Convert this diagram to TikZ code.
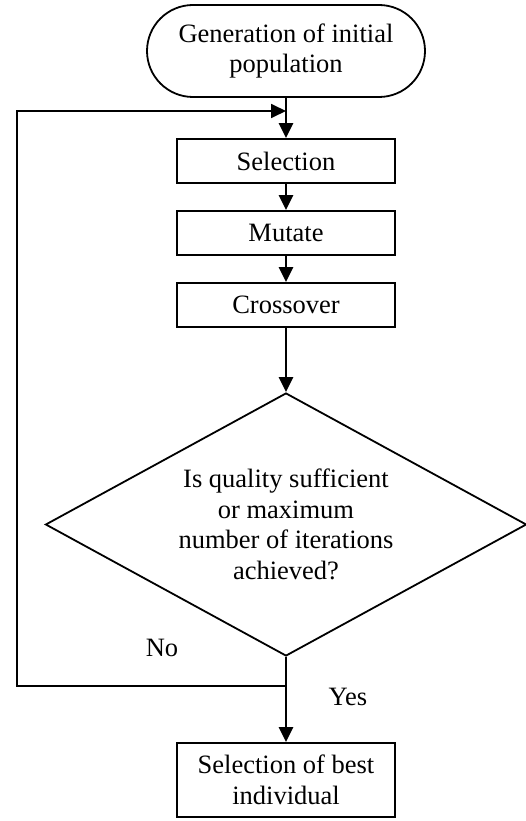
\documentclass[tikz,border=0pt]{standalone}
\usepackage{fontspec}
\setmainfont{Liberation Serif}
\usetikzlibrary{arrows.meta,shapes.geometric}
\begin{document}
\begin{tikzpicture}[x=1pt,y=-1pt,
  every node/.style={font=\fontsize{26.5}{30.5}\selectfont},
  boxstyle/.style={draw,line width=1.8pt,minimum width=218pt,minimum height=44pt,inner sep=0pt,align=center},
  termstyle/.style={draw,line width=1.8pt,rounded corners=46pt,minimum width=278pt,minimum height=92pt,inner sep=0pt,align=center},
  decstyle/.style={draw,line width=1.8pt,diamond,aspect=1.83,minimum width=481pt,minimum height=263pt,inner sep=0pt,align=center},
  flow/.style={line width=2.6pt,-{Triangle[length=15pt,width=14pt]}},
  plainline/.style={line width=1.8pt},
  lbl/.style={inner sep=0pt}]
\useasboundingbox (0,0) rectangle (526,821);
\node[termstyle] (start) at (286,51) {Generation of initial\\population};
\node[boxstyle] (sel) at (286,161) {Selection};
\node[boxstyle] (mut) at (286,233) {Mutate};
\node[boxstyle] (cross) at (286,305) {Crossover};
\node[decstyle] (dec) at (286,524.5) {Is quality sufficient\\or maximum\\number of iterations\\achieved?};
\node[boxstyle,minimum height=74pt] (best) at (286,780) {Selection of best\\individual};
\node[lbl] (no) at (162,648) {No};
\node[lbl] (yes) at (348,697) {Yes};
\coordinate (j1) at (286,686);
\coordinate (c1) at (17,686);
\coordinate (c2) at (17,111);
\coordinate (j2) at (286,111);
\draw[flow] (start.south) -- (sel.north);
\draw[flow] (sel.south) -- (mut.north);
\draw[flow] (mut.south) -- (cross.north);
\draw[flow] (cross.south) -- (dec.north);
\draw[flow] (dec.south) -- (best.north);
\draw[plainline,-{Triangle[length=15pt,width=14pt]}] (j1) -- (c1) -- (c2) -- (j2);
\end{tikzpicture}
\end{document}
